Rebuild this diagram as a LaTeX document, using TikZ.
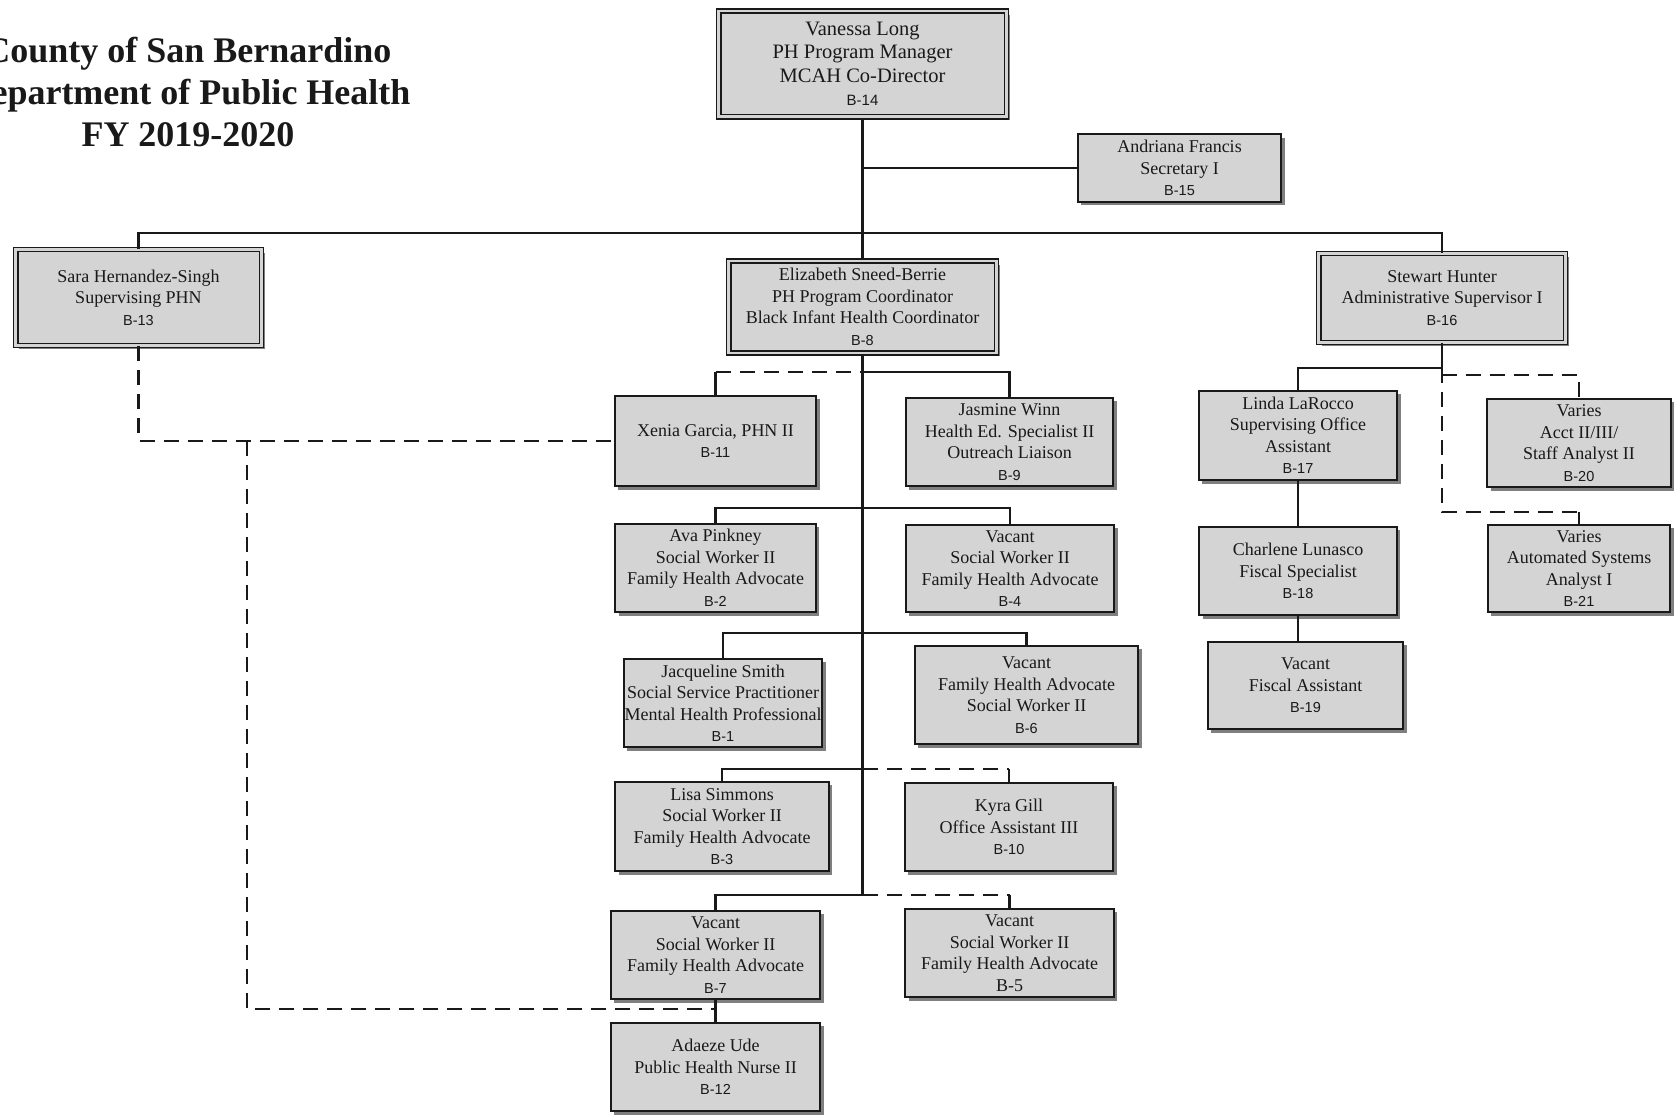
\documentclass[tikz,border=0pt]{standalone}
\usepackage{fontspec}
\setmainfont{Liberation Serif}
\newfontfamily\codefont{Liberation Sans}
\usetikzlibrary{shadows}
\definecolor{boxfill}{RGB}{212,212,212}
\definecolor{shade}{RGB}{105,105,105}
\definecolor{ink}{RGB}{25,25,25}
\newcommand{\code}[1]{{\codefont\fontsize{14.5}{17}\selectfont #1}}
\newcommand{\bigcode}[1]{{\codefont\fontsize{15}{18}\selectfont #1}}
\tikzset{
  box/.style={draw=ink, line width=2pt, fill=boxfill, align=center, inner sep=0pt,
    font=\fontsize{18}{21.5}\selectfont, text=ink,
    drop shadow={shadow xshift=3.5pt, shadow yshift=-3.5pt, fill=shade, opacity=0.85}},
  dbox/.style={box, double=boxfill, double distance=2.6pt, line width=1.5pt},
  conn/.style={draw=ink, line width=2.2pt},
  dconn/.style={conn, dash pattern=on 15pt off 9pt},
}
\begin{document}
\begin{tikzpicture}[x=1pt, y=-1pt]
\useasboundingbox (0,0) rectangle (1675,1115);
\fill[white] (0,0) rectangle (1675,1115);

% title
\node (title) [anchor=north, align=center, inner sep=0pt, text=ink,
  font=\bfseries\fontsize{36}{42}\selectfont] at (188,36.5)
  {County of San Bernardino\\Department of Public Health\\FY 2019-2020};

% boxes
\node (v) [dbox, minimum width=287.6pt, minimum height=105.6pt, font=\fontsize{20.5}{23.5}\selectfont] at (862.5,64)
  {Vanessa Long\\PH Program Manager\\MCAH Co-Director\\\bigcode{B-14}};
\node (af) [box, minimum width=203.4pt, minimum height=67.4pt] at (1179.5,168)
  {Andriana Francis\\Secretary I\\\code{B-15}};
\node (sh) [dbox, minimum width=245.6pt, minimum height=95.6pt] at (138.5,297.5)
  {Sara Hernandez-Singh\\Supervising PHN\\\code{B-13}};
\node (es) [dbox, minimum width=267.6pt, minimum height=91.6pt] at (862.5,307)
  {Elizabeth Sneed-Berrie\\PH Program Coordinator\\Black Infant Health Coordinator\\\code{B-8}};
\node (sth) [dbox, minimum width=246.6pt, minimum height=88.6pt] at (1442,298)
  {Stewart Hunter\\Administrative Supervisor I\\\code{B-16}};

\node (xg) [box, minimum width=201.4pt, minimum height=90.4pt] at (715.5,441)
  {Xenia Garcia, PHN II\\\code{B-11}};
\node (jw) [box, minimum width=207.4pt, minimum height=88.4pt] at (1009.5,442)
  {Jasmine Winn\\Health Ed. Specialist II\\Outreach Liaison\\\code{B-9}};
\node (ap) [box, minimum width=200.4pt, minimum height=88.4pt] at (715.5,568)
  {Ava Pinkney\\Social Worker II\\Family Health Advocate\\\code{B-2}};
\node (v4) [box, minimum width=208.4pt, minimum height=87.4pt] at (1010,568.5)
  {Vacant\\Social Worker II\\Family Health Advocate\\\code{B-4}};
\node (js) [box, minimum width=198.4pt, minimum height=88.4pt] at (723,703)
  {Jacqueline Smith\\Social Service Practitioner\\Mental Health Professional\\\code{B-1}};
\node (v6) [box, minimum width=223.4pt, minimum height=98.4pt] at (1026.5,695)
  {Vacant\\Family Health Advocate\\Social Worker II\\\code{B-6}};
\node (ls) [box, minimum width=213.4pt, minimum height=89.4pt] at (722,826.5)
  {Lisa Simmons\\Social Worker II\\Family Health Advocate\\\code{B-3}};
\node (kg) [box, minimum width=208.4pt, minimum height=88.4pt] at (1009,827)
  {Kyra Gill\\Office Assistant III\\\code{B-10}};
\node (v7) [box, minimum width=209.4pt, minimum height=88.4pt] at (715.5,955)
  {Vacant\\Social Worker II\\Family Health Advocate\\\code{B-7}};
\node (v5) [box, minimum width=208.4pt, minimum height=88.4pt] at (1009.5,953)
  {Vacant\\Social Worker II\\Family Health Advocate\\B-5};
\node (au) [box, minimum width=209.4pt, minimum height=88.4pt] at (715.5,1067)
  {Adaeze Ude\\Public Health Nurse II\\\code{B-12}};

\node (ll) [box, minimum width=198.4pt, minimum height=89.4pt] at (1298,435.5)
  {Linda LaRocco\\Supervising Office\\Assistant\\\code{B-17}};
\node (cl) [box, minimum width=197.4pt, minimum height=88.4pt] at (1298,571)
  {Charlene Lunasco\\Fiscal Specialist\\\code{B-18}};
\node (v19) [box, minimum width=195.4pt, minimum height=87.4pt] at (1305.5,685.5)
  {Vacant\\Fiscal Assistant\\\code{B-19}};
\node (va20) [box, minimum width=183.4pt, minimum height=88.4pt] at (1579,443)
  {Varies\\Acct II/III/\\Staff Analyst II\\\code{B-20}};
\node (va21) [box, minimum width=182.4pt, minimum height=87.4pt] at (1579,568.5)
  {Varies\\Automated Systems\\Analyst I\\\code{B-21}};

% helper coordinates
\coordinate (bar) at (0,233);
\coordinate (r1) at (0,372);
\coordinate (r2) at (0,508);
\coordinate (r3) at (0,633);
\coordinate (r4) at (0,769);
\coordinate (r5) at (0,895);
\coordinate (s1) at (0,368);
\coordinate (s2) at (0,375);
\coordinate (s3) at (0,512);
\coordinate (j1) at (247,441);
\coordinate (m7) at (715.5,1009);

% connectors
\draw[conn] (es.north) -- (es.north |- v.south);
\draw[conn] (es.north |- af.west) -- (af.west);
\draw[conn] (sh.north) -- (sh.north |- bar) -- (sth.north |- bar) -- (sth.north);

\draw[conn] (xg.north) -- (xg.north |- r1);
\draw[dconn] (xg.north |- r1) -- (es.south |- r1);
\draw[conn] (es.south |- r1) -- (jw.north |- r1) -- (jw.north);
\draw[conn] (es.south) -- (es.south |- r5);
\draw[conn] (ap.north) -- (ap.north |- r2) -- (v4.north |- r2) -- (v4.north);
\draw[conn] (js.north) -- (js.north |- r3) -- (v6.north |- r3) -- (v6.north);
\draw[conn] (ls.north) -- (ls.north |- r4) -- (es.south |- r4);
\draw[dconn] (es.south |- r4) -- (kg.north |- r4);
\draw[conn] (kg.north |- r4) -- (kg.north);
\draw[conn] (v7.north) -- (v7.north |- r5) -- (es.south |- r5);
\draw[dconn] (es.south |- r5) -- (v5.north |- r5);
\draw[conn] (v5.north |- r5) -- (v5.north);
\draw[conn] (v7.south) -- (au.north);

\draw[dconn] (sh.south) |- (xg.west);
\draw[dconn] (j1) |- (m7);

\draw[conn] (sth.south) -- (sth.south |- s1) -- (ll.north |- s1) -- (ll.north);
\draw[dconn] (sth.south |- s1) -- (sth.south |- s3) -- (va21.north |- s3);
\draw[conn] (va21.north |- s3) -- (va21.north);
\draw[dconn] (sth.south |- s2) -- (va20.north |- s2) -- (va20.north);
\draw[conn] (ll.south) -- (cl.north);
\draw[conn] (cl.south) -- (cl.south |- v19.north);
\end{tikzpicture}
\end{document}
